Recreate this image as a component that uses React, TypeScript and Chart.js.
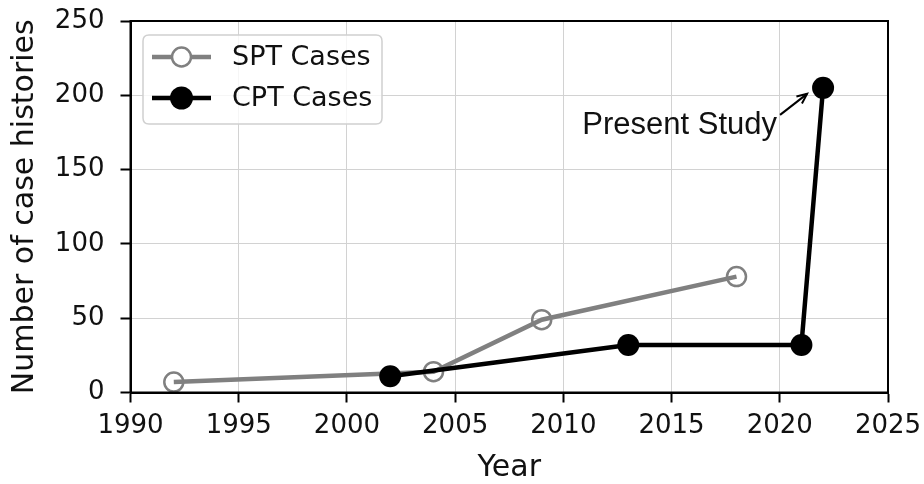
import React, { useEffect, useRef } from "react";
import { Chart, registerables } from "chart.js";

Chart.register(...registerables);

const sptYears = [1992, 2004, 2009, 2018];
const sptCases = [7, 14, 49, 78];
const cptYears = [2002, 2013, 2021, 2022];
const cptCases = [11, 32, 32, 205];
const xTicks = [1990, 1995, 2000, 2005, 2010, 2015, 2020, 2025];
const yTicks = [0, 50, 100, 150, 200, 250];
const seriesLabels = ["SPT Cases", "CPT Cases"];
const annotationText = "Present Study";
const annotationPoint = { x: 2022, y: 205 };

const framePlugin = {
  id: "frame",
  afterDraw(chart: any) {
    const { ctx, chartArea } = chart;
    ctx.save();
    ctx.strokeStyle = "#000";
    ctx.lineWidth = 2;
    ctx.strokeRect(chartArea.left, chartArea.top, chartArea.right - chartArea.left, chartArea.bottom - chartArea.top);
    ctx.restore();
  },
};

const legendPlugin = {
  id: "customLegend",
  afterDraw(chart: any) {
    const { ctx } = chart;
    ctx.save();
    const bx = 143, by = 35, bw = 239, bh = 89, r = 6;
    ctx.beginPath();
    ctx.moveTo(bx + r, by);
    ctx.lineTo(bx + bw - r, by);
    ctx.quadraticCurveTo(bx + bw, by, bx + bw, by + r);
    ctx.lineTo(bx + bw, by + bh - r);
    ctx.quadraticCurveTo(bx + bw, by + bh, bx + bw - r, by + bh);
    ctx.lineTo(bx + r, by + bh);
    ctx.quadraticCurveTo(bx, by + bh, bx, by + bh - r);
    ctx.lineTo(bx, by + r);
    ctx.quadraticCurveTo(bx, by, bx + r, by);
    ctx.closePath();
    ctx.fillStyle = "rgba(255,255,255,0.8)";
    ctx.fill();
    ctx.strokeStyle = "#d0d0d0";
    ctx.lineWidth = 1.5;
    ctx.stroke();

    const rows = [
      { y: 57, color: "#808080", filled: false, label: seriesLabels[0] },
      { y: 98, color: "#000000", filled: true, label: seriesLabels[1] },
    ];
    rows.forEach((row) => {
      ctx.strokeStyle = row.color;
      ctx.lineWidth = 4.5;
      ctx.beginPath();
      ctx.moveTo(152, row.y);
      ctx.lineTo(211, row.y);
      ctx.stroke();
      ctx.beginPath();
      if (row.filled) {
        ctx.arc(181.5, row.y, 11.5, 0, Math.PI * 2);
        ctx.fillStyle = row.color;
        ctx.fill();
      } else {
        ctx.arc(181.5, row.y, 9.5, 0, Math.PI * 2);
        ctx.fillStyle = "#ffffff";
        ctx.fill();
        ctx.lineWidth = 2.5;
        ctx.stroke();
      }
      ctx.fillStyle = "#111";
      ctx.font = "27px 'DejaVu Sans'";
      ctx.textAlign = "left";
      ctx.textBaseline = "middle";
      ctx.fillText(row.label, 232, row.y + 1);
    });
    ctx.restore();
  },
};

const annotationPlugin = {
  id: "annotation",
  afterDatasetsDraw(chart: any) {
    const { ctx, scales } = chart;
    const px = scales.x.getPixelForValue(annotationPoint.x);
    const py = scales.y.getPixelForValue(annotationPoint.y);
    const tipX = px - 16, tipY = py + 6;
    const tailX = px - 43, tailY = py + 27;
    ctx.save();
    ctx.strokeStyle = "#000";
    ctx.lineWidth = 2;
    ctx.beginPath();
    ctx.moveTo(tailX, tailY);
    ctx.lineTo(tipX, tipY);
    ctx.stroke();
    const ang = Math.atan2(tipY - tailY, tipX - tailX);
    const hl = 10, hw = 4.5;
    const bx = tipX - hl * Math.cos(ang), byy = tipY - hl * Math.sin(ang);
    ctx.beginPath();
    ctx.moveTo(bx + hw * Math.sin(ang), byy - hw * Math.cos(ang));
    ctx.lineTo(tipX, tipY);
    ctx.lineTo(bx - hw * Math.sin(ang), byy + hw * Math.cos(ang));
    ctx.stroke();
    ctx.fillStyle = "#111";
    ctx.font = "31px 'Liberation Sans', Arial, sans-serif";
    ctx.textAlign = "right";
    ctx.textBaseline = "alphabetic";
    ctx.fillText(annotationText, px - 46, py + 46);
    ctx.restore();
  },
};

export default function App() {
  const ref = useRef<HTMLCanvasElement>(null);
  useEffect(() => {
    if (!ref.current) return;
    Chart.defaults.font.family = "'DejaVu Sans'";
    const chart = new Chart(ref.current, {
      type: "line",
      data: {
        datasets: [
          {
            label: seriesLabels[1],
            data: cptYears.map((x, i) => ({ x, y: cptCases[i] })),
            borderColor: "#000000",
            borderWidth: 4.5,
            pointRadius: 11,
            pointBackgroundColor: "#000000",
            pointBorderColor: "#000000",
            pointBorderWidth: 0,
            order: 0,
          },
          {
            label: seriesLabels[0],
            data: sptYears.map((x, i) => ({ x, y: sptCases[i] })),
            borderColor: "#808080",
            borderWidth: 4.5,
            pointRadius: 9.5,
            pointBackgroundColor: "rgba(0,0,0,0)",
            pointBorderColor: "#808080",
            pointBorderWidth: 2.5,
            order: 1,
          },
        ],
      },
      options: {
        responsive: false,
        animation: false,
        layout: { padding: { top: 21, right: 36, left: 0, bottom: 0 } },
        plugins: { legend: { display: false }, tooltip: { enabled: false } },
        scales: {
          x: {
            type: "linear",
            min: 1990,
            max: 2025,
            afterBuildTicks: (s: any) => {
              s.ticks = xTicks.map((v) => ({ value: v }));
            },
            afterFit: (s: any) => {
              s.height = 91.5;
              s.paddingLeft = 0;
              s.paddingRight = 0;
              s.paddingTop = 0;
              s.paddingBottom = 0;
            },
            ticks: {
              callback: (v: any) => String(v),
              color: "#111",
              font: { size: 26 },
              padding: 8,
              maxRotation: 0,
            },
            grid: { color: "#d2d2d2", lineWidth: 1, tickLength: 10, tickColor: "#000", tickWidth: 2 },
            border: { color: "#000", width: 2 },
            title: {
              display: true,
              text: "Year",
              color: "#111",
              font: { size: 30, lineHeight: 1 },
              padding: { top: 0, bottom: 0.5 },
            },
          },
          y: {
            type: "linear",
            min: 0,
            max: 250,
            afterBuildTicks: (s: any) => {
              s.ticks = yTicks.map((v) => ({ value: v }));
            },
            afterFit: (s: any) => {
              s.width = 130.5;
              s.paddingLeft = 0;
              s.paddingRight = 0;
              s.paddingTop = 0;
              s.paddingBottom = 0;
            },
            ticks: {
              callback: (v: any) => String(v),
              color: "#111",
              font: { size: 26 },
              padding: 16,
            },
            grid: { color: "#d2d2d2", lineWidth: 1, tickLength: 10, tickColor: "#000", tickWidth: 2 },
            border: { color: "#000", width: 2 },
            title: {
              display: true,
              text: "Number of case histories",
              color: "#111",
              font: { size: 30, lineHeight: 1 },
              padding: { top: 10.5, bottom: 0 },
            },
          },
        },
      },
      plugins: [annotationPlugin, framePlugin, legendPlugin],
    } as any);
    return () => chart.destroy();
  }, []);
  return (
    <canvas
      ref={ref}
      width={924}
      height={484}
      style={{ position: "fixed", left: 0, top: 0, width: 924, height: 484, display: "block", background: "#fff" }}
    />
  );
}
